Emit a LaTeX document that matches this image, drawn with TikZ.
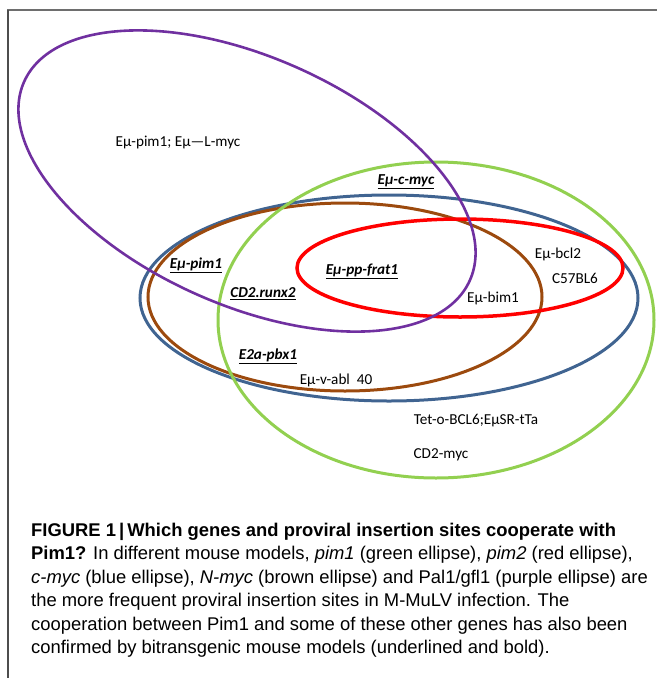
\documentclass[tikz,border=0pt]{standalone}
\usepackage{fontspec}
\setmainfont{Carlito}
\newfontfamily\capfont{Liberation Sans}
\usepackage{xcolor}
\definecolor{vennPurple}{RGB}{112,48,160}
\definecolor{vennGreen}{RGB}{146,208,80}
\definecolor{vennBlue}{RGB}{64,100,145}
\definecolor{vennBrown}{RGB}{156,74,14}
\definecolor{vennRed}{RGB}{255,0,0}
\definecolor{frameGray}{RGB}{110,110,110}
\usetikzlibrary{positioning}

\begin{document}
\begin{tikzpicture}[
    x=1pt, y=-1pt,
    setLine/.style={line width=3pt},
    geneLabel/.style={
        font=\fontsize{15.2}{17}\selectfont, text=black, inner sep=0pt
    },
    coopLabel/.style={
        font=\fontsize{15.2}{17}\selectfont\bfseries\itshape, text=black, inner sep=0pt
    },
    capText/.style={
        font=\capfont\fontsize{18.4}{23.4}\selectfont, align=left,
        inner sep=0pt, anchor=north west
    }
]

    \useasboundingbox (0,0) rectangle (657,678);

    % Frame
    \draw[frameGray, line width=2pt] (7,10) -- (657,10);
    \draw[frameGray!70!black, line width=1.5pt] (8,10) -- (8,678);

    % Ellipses
    \draw[setLine, vennBlue] (389,298) ellipse [x radius=249, y radius=103];
    \draw[setLine, vennBrown] (345,297) ellipse [x radius=197, y radius=94];
    \draw[setLine, vennRed, line width=3.5pt] (460,268) ellipse [x radius=163, y radius=49];
    \draw[setLine, vennGreen] (436,320) ellipse [x radius=218, y radius=158];
    \draw[setLine, vennPurple, line width=2.6pt, rotate around={-24:(247,181)}] (247,181) ellipse [x radius=244, y radius=124];

    % Labels
    \node[geneLabel] (lPimLmyc) at (178,142) {Eμ-pim1; Eμ—L-myc};
    \node[coopLabel] (lCmyc) at (406,182) {\underline{Eμ-c-myc}};
    \node[coopLabel] (lPim1) at (196,265) {\underline{Eμ-pim1}};
    \node[coopLabel] (lFrat) at (362,271) {\underline{Eμ-pp-frat1}};
    \node[coopLabel] (lRunx) at (263,294) {\underline{CD2.runx2}};
    \node[coopLabel] (lPbx) at (268,356) {\underline{E2a-pbx1}};
    \node[geneLabel] (lAbl) at (336,380) {Eμ-v-abl\ \ 40};
    \node[geneLabel] (lBcl2) at (558,254) {Eμ-bcl2};
    \node[geneLabel] (lC57) at (575,278) {C57BL6};
    \node[geneLabel] (lBim) at (493,298) {Eμ-bim1};
    \node[geneLabel] (lTet) at (476,421) {Tet-o-BCL6;EμSR-tTa};
    \node[geneLabel] (lCd2) at (441,455) {CD2-myc};

    % Caption
    \node[capText] (caption) at (31,523) {%
        \textbf{FIGURE 1\,|\,Which genes and proviral insertion sites cooperate with}\\
        \textbf{Pim1?} In different mouse models, \textit{pim1} (green ellipse), \textit{pim2} (red ellipse),\\
        \textit{c-myc} (blue ellipse), \textit{N-myc} (brown ellipse) and Pal1/gfl1 (purple ellipse) are\\
        the more frequent proviral insertion sites in M-MuLV infection. The\\
        cooperation between Pim1 and some of these other genes has also been\\
        confirmed by bitransgenic mouse models (underlined and bold).};

\end{tikzpicture}
\end{document}
